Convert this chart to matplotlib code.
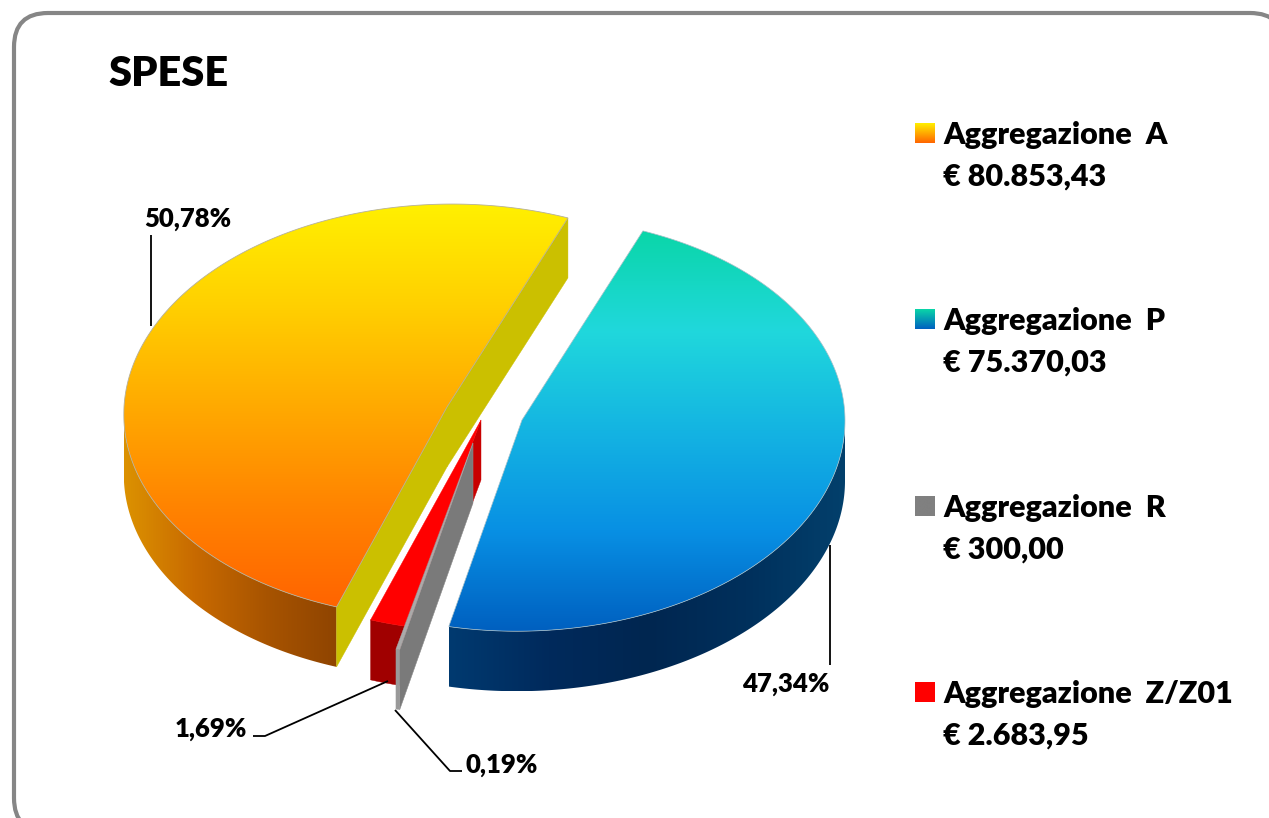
import numpy as np
import matplotlib
matplotlib.use('Agg')
import matplotlib.pyplot as plt
from matplotlib.colors import LinearSegmentedColormap
from matplotlib.patches import FancyBboxPatch, Polygon

# Data
names = ['Aggregazione  A', 'Aggregazione  P', 'Aggregazione  R', 'Aggregazione  Z/Z01']
amounts = [80853.43, 75370.03, 300.00, 2683.95]
amount_labels = ['€ 80.853,43', '€ 75.370,03', '€ 300,00', '€ 2.683,95']
pct_labels = ['50,78%', '47,34%', '0,19%', '1,69%']

plt.rcParams['font.family'] = ['Lato', 'DejaVu Sans']

W, H = 1269, 818
RX, RY = 323, 207
DEPTH = 60
PERSP = 0.02
SHEAR = -0.025
START = 68.5  # screen angle where the P slice starts, going clockwise

# pixel centre of every exploded slice
centres = {'A': (447, 407), 'P': (522, 420), 'R': (473, 443), 'Z': (481, 420)}


def project(c, t, r=1.0):
    t = np.radians(t)
    scale = 1 / (1 + PERSP * r * np.sin(t))
    dy = -RY * r * np.sin(t) * scale
    return np.column_stack([c[0] + RX * r * np.cos(t) * scale + SHEAR * dy, c[1] + dy])


def fill_gradient(ax, xy, colors, vertical=True, zorder=2):
    cmap = LinearSegmentedColormap.from_list('g', colors)
    xmin, ymin = xy.min(axis=0)
    xmax, ymax = xy.max(axis=0)
    grad = np.linspace(0, 1, 256)
    img = grad.reshape(-1, 1) if vertical else grad.reshape(1, -1)
    im = ax.imshow(img, cmap=cmap, extent=(xmin, xmax, ymax, ymin), origin='upper',
                   aspect='auto', zorder=zorder, interpolation='bilinear')
    clip = Polygon(xy, closed=True, transform=ax.transData, fc='none', ec='none')
    ax.add_patch(clip)
    im.set_clip_path(clip)
    return im


def arc(c, t0, t1, n=200):
    return project(c, np.linspace(t0, t1, n))


def outer_wall(c, t0, t1):
    # only the front of the rim shows, where sin(t) < 0
    ts = np.linspace(t0, t1, 300)
    ts = ts[np.sin(np.radians(ts)) < 0.0]
    top = project(c, ts)
    bottom = top + [0, DEPTH]
    return np.vstack([top, bottom[::-1]])


def cut_face(c, t):
    inner = np.array([c], dtype=float)
    outer = project(c, t)
    return np.vstack([inner, outer, outer + [0, DEPTH], inner + [0, DEPTH]])


fig = plt.figure(figsize=(W / 100, H / 100), dpi=100)
ax = fig.add_axes([0, 0, 1, 1])

fracs = np.array(amounts) / sum(amounts) * 360

# clockwise from the top right: P, R, Z, then A
p_start, p_end = START, START - fracs[1]
r_start, r_end = p_end, p_end - fracs[2]
z_start, z_end = r_end, r_end - fracs[3]
a_start, a_end = START, START + fracs[0]

# border, runs off the right and bottom of the picture
ax.add_patch(FancyBboxPatch((14, 13), 1270, 819, boxstyle='round,pad=0,rounding_size=34',
                            fc='white', ec='#868686', lw=3.0, zorder=1))

# Slice A
c = centres['A']
fill_gradient(ax, outer_wall(c, a_start, a_end), ['#dc9200', '#c86a00', '#a85400', '#8f4400'],
              vertical=False)
for t in (a_start, a_end):
    ax.add_patch(Polygon(cut_face(c, t), closed=True, fc='#cbc000', ec='#cbc000', lw=0.3, zorder=2.5))
top = np.vstack([[c], arc(c, a_start, a_end)])
fill_gradient(ax, top, ['#fff000', '#ffd000', '#ffaa00', '#ff8400', '#ff6400'], zorder=3)
ax.add_patch(Polygon(top, closed=True, fc='none', ec='#b5b09a', lw=0.6, zorder=3.1))

# Slice Z (red)
c = centres['Z']
ax.add_patch(Polygon(outer_wall(c, z_start, z_end), closed=True, fc='#a00000', ec='#a00000', lw=0.3, zorder=4))
ax.add_patch(Polygon(cut_face(c, z_start), closed=True, fc='#c80000', ec='#c80000', lw=0.3, zorder=4))
ax.add_patch(Polygon(np.vstack([[c], arc(c, z_start, z_end)]), closed=True, fc='#ff0000', ec='#ff0000', lw=0.3, zorder=4.2))

# Slice R (grey)
c = centres['R']
ax.add_patch(Polygon(cut_face(c, r_start), closed=True, fc='#7a7a7a', ec='#8a8a8a', lw=0.4, zorder=5))
ax.add_patch(Polygon(outer_wall(c, r_start, r_end), closed=True, fc='#999999', ec='#999999', lw=0.3, zorder=5))
ax.add_patch(Polygon(np.vstack([[c], arc(c, r_start, r_end)]), closed=True, fc='#aaaaaa', ec='#aaaaaa', lw=0.3, zorder=5.2))

# Slice P
c = centres['P']
fill_gradient(ax, outer_wall(c, p_start, p_end), ['#003a70', '#002a5c', '#002650', '#00305c', '#03406c'],
              vertical=False, zorder=6)
top = np.vstack([[c], arc(c, p_start, p_end)])
fill_gradient(ax, top, ['#0ad6a8', '#20d8dc', '#14b4e2', '#0890e4', '#0060c0'], zorder=6.5)
ax.add_patch(Polygon(top, closed=True, fc='none', ec='#a8c0c8', lw=0.5, zorder=6.6))

# Leader lines
leader = dict(color='black', lw=1.3, zorder=7, solid_capstyle='butt')
ax.plot([151, 151], [235, 326], **leader)
ax.plot([830, 830], [545, 665], **leader)
ax.plot([253, 265, 388], [736, 736, 681], **leader)
ax.plot([395, 450, 462], [710, 771, 771], **leader)

# Percentage labels
pct_font = dict(fontsize=18.5, fontweight='heavy', color='black', va='center', ha='center', zorder=8)
ax.text(188, 219, pct_labels[0], **pct_font)
ax.text(786, 684, pct_labels[1], **pct_font)
ax.text(502, 765, pct_labels[2], **pct_font)
ax.text(211, 729, pct_labels[3], **pct_font)

# Title
ax.text(108, 74, 'SPESE', fontsize=30, fontweight='heavy', color='black', va='center', ha='left', zorder=8)

# Legend
legend_y = [133, 319, 506, 692]
legend_fill = [['#fff000', '#ff6400'], ['#0ad6a8', '#0060c0'], ['#808080', '#808080'], ['#ff0000', '#ff0000']]
for name, amount, y, colors in zip(names, amount_labels, legend_y, legend_fill):
    box = np.array([[915, y - 10], [935, y - 10], [935, y + 10], [915, y + 10]], dtype=float)
    fill_gradient(ax, box, colors, zorder=8)
    ax.text(943, y + 2, name, fontsize=22, fontweight='heavy', color='black', va='center', ha='left', zorder=8)
    ax.text(943, y + 44, amount, fontsize=22, fontweight='heavy', color='black', va='center', ha='left', zorder=8)

ax.set_xlim(0, W)
ax.set_ylim(H, 0)
ax.axis('off')
fig.savefig('out.png', dpi=100, facecolor='white')
